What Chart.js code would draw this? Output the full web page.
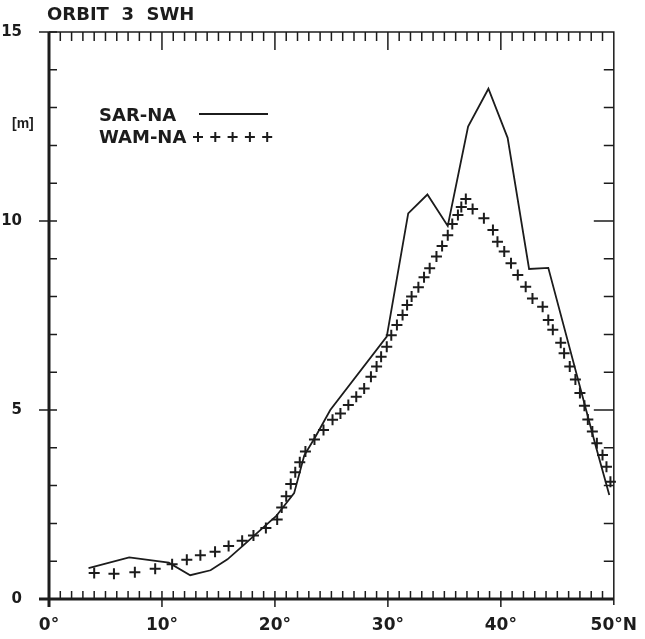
<!DOCTYPE html>
<html>
<head>
<meta charset="utf-8">
<script src="https://cdn.jsdelivr.net/npm/chart.js@4.4.1/dist/chart.umd.min.js"></script>
<style>
  body { margin: 0; background: #fff; }
</style>
</head>
<body>
<canvas id="chart" width="645" height="639"></canvas>
<script>
// SAR-NA significant wave height along the track (latitude in deg N, SWH in m)
const sarLat = [3.5, 7.1, 10.6, 12.5, 14.3, 15.8, 17.5, 19.0, 20.1, 21.7, 22.6, 23.6, 24.9,
  29.9, 31.8, 33.5, 35.3, 37.1, 38.9, 40.6, 42.5, 44.2, 48.4, 49.6];
const sarSwh = [0.82, 1.10, 0.96, 0.63, 0.76, 1.05, 1.50, 1.90, 2.19, 2.80, 3.80, 4.30, 5.00,
  6.94, 10.2, 10.7, 9.87, 12.5, 13.5, 12.2, 8.73, 8.76, 4.05, 2.75];

// WAM-NA model values
const wamLat = [4.0, 5.75, 7.6, 9.4, 10.9, 12.2, 13.4, 14.7, 15.9, 17.1, 18.1, 19.2, 20.2,
  20.6, 21.0, 21.4, 21.8, 22.2, 22.7, 23.5, 24.3, 25.1, 25.8, 26.5, 27.2, 27.9, 28.5,
  29.0, 29.4, 29.9, 30.3, 30.8, 31.3, 31.7, 32.1, 32.7, 33.2, 33.7, 34.3, 34.8, 35.3,
  35.7, 36.2, 36.5, 36.9, 37.5, 38.5, 39.3, 39.7, 40.3, 40.9, 41.5, 42.2, 42.8, 43.7,
  44.2, 44.6, 45.3, 45.6, 46.1, 46.6, 47.0, 47.4, 47.7, 48.1, 48.5, 49.0, 49.35, 49.7];
const wamSwh = [0.69, 0.67, 0.71, 0.80, 0.92, 1.04, 1.16, 1.25, 1.40, 1.54, 1.68, 1.88, 2.10,
  2.42, 2.72, 3.04, 3.35, 3.62, 3.90, 4.22, 4.47, 4.74, 4.91, 5.13, 5.35, 5.57, 5.88,
  6.15, 6.41, 6.67, 6.98, 7.25, 7.51, 7.78, 8.00, 8.25, 8.51, 8.75, 9.06, 9.34, 9.62,
  9.92, 10.16, 10.37, 10.58, 10.32, 10.07, 9.76, 9.45, 9.19, 8.88, 8.57, 8.26, 7.95, 7.73,
  7.38, 7.12, 6.78, 6.50, 6.15, 5.81, 5.45, 5.11, 4.75, 4.43, 4.12, 3.81, 3.50, 3.10];

const xTickLabels = ["0°", "10°", "20°", "30°", "40°", "50°N"];
const seriesNames = ["SAR-NA", "WAM-NA"];
const title = "ORBIT  3  SWH";
const unitLabel = "[m]";

const INK = "#1c1c1c";

const toPoints = (xs, ys) => xs.map((v, i) => ({ x: v, y: ys[i] }));

function drawCross(ctx, cx, cy, r) {
  ctx.beginPath();
  ctx.moveTo(cx - r, cy); ctx.lineTo(cx + r, cy);
  ctx.moveTo(cx, cy - r); ctx.lineTo(cx, cy + r);
  ctx.stroke();
}

// frame with inward ticks, legend and labels, as on the old plotter figure
const plotFrame = {
  id: "plotFrame",
  afterDatasetsDraw(chart) {
    const { ctx, chartArea: a, scales: { x, y } } = chart;
    ctx.save();
    ctx.strokeStyle = INK;
    ctx.fillStyle = INK;

    ctx.lineWidth = 1.5;
    ctx.beginPath();
    ctx.moveTo(a.left, a.top); ctx.lineTo(a.right, a.top);
    ctx.lineTo(a.right, a.bottom + 6);
    ctx.stroke();

    ctx.lineWidth = 3;
    ctx.beginPath();
    ctx.moveTo(a.left, a.top); ctx.lineTo(a.left, a.bottom + 8);
    ctx.moveTo(a.left - 10, a.bottom); ctx.lineTo(a.right, a.bottom);
    ctx.stroke();

    ctx.lineWidth = 1.5;
    for (let d = 1; d < 50; d++) {
      const px = x.getPixelForValue(d);
      const major = d % 10 === 0;
      ctx.beginPath();
      ctx.moveTo(px, a.top); ctx.lineTo(px, a.top + (major ? 18 : 9));
      ctx.moveTo(px, a.bottom + (major ? 8 : 0)); ctx.lineTo(px, a.bottom - 8);
      ctx.stroke();
    }
    for (let m = 1; m <= 15; m++) {
      const py = y.getPixelForValue(m);
      const major = m % 5 === 0;
      ctx.beginPath();
      ctx.moveTo(a.left - (major ? 10 : 0), py); ctx.lineTo(a.left + 8, py);
      if (m < 15) { ctx.moveTo(a.right, py); ctx.lineTo(a.right - (major ? 20 : 10), py); }
      ctx.stroke();
    }

    // title and unit
    ctx.font = "bold 18px 'DejaVu Sans'";
    ctx.textBaseline = "middle";
    ctx.textAlign = "left";
    ctx.fillText(title, 47, 15);
    ctx.font = "bold 14px 'Liberation Sans'";
    ctx.fillText(unitLabel, 12, 124);

    // legend
    ctx.font = "bold 18px 'DejaVu Sans'";
    ctx.fillText(seriesNames[0], 99, 116);
    ctx.fillText(seriesNames[1], 99, 138);
    ctx.lineWidth = 1.8;
    ctx.beginPath();
    ctx.moveTo(199, 114); ctx.lineTo(268, 114);
    ctx.stroke();
    ctx.lineWidth = 2;
    for (let i = 0; i < 5; i++) drawCross(ctx, 198 + i * 17.3, 137, 5);
    ctx.restore();
  }
};

new Chart(document.getElementById("chart"), {
  type: "scatter",
  data: {
    datasets: [
      {
        label: seriesNames[0],
        data: toPoints(sarLat, sarSwh),
        showLine: true,
        borderColor: INK,
        borderWidth: 1.8,
        pointRadius: 0,
        tension: 0
      },
      {
        label: seriesNames[1],
        data: toPoints(wamLat, wamSwh),
        showLine: false,
        pointStyle: "cross",
        pointRadius: 5.5,
        borderColor: INK,
        borderWidth: 2,
        clip: false
      }
    ]
  },
  options: {
    responsive: false,
    animation: false,
    layout: { padding: { top: 32, right: 28, bottom: 0, left: 0 } },
    plugins: { legend: { display: false }, tooltip: { enabled: false } },
    scales: {
      x: {
        type: "linear",
        min: 0,
        max: 50,
        grid: { display: false },
        border: { display: false },
        afterFit: (s) => { s.height = 40; },
        ticks: {
          stepSize: 10,
          padding: 8,
          color: INK,
          font: { family: "DejaVu Sans", size: 17, weight: "bold" },
          callback: (v) => xTickLabels[Math.round(v / 10)]
        }
      },
      y: {
        min: 0,
        max: 15,
        grid: { display: false },
        border: { display: false },
        afterFit: (s) => { s.width = 49; },
        ticks: {
          stepSize: 5,
          padding: 19,
          color: INK,
          font: { family: "DejaVu Sans", size: 15, weight: "bold" }
        }
      }
    }
  },
  plugins: [plotFrame]
});
</script>
</body>
</html>
